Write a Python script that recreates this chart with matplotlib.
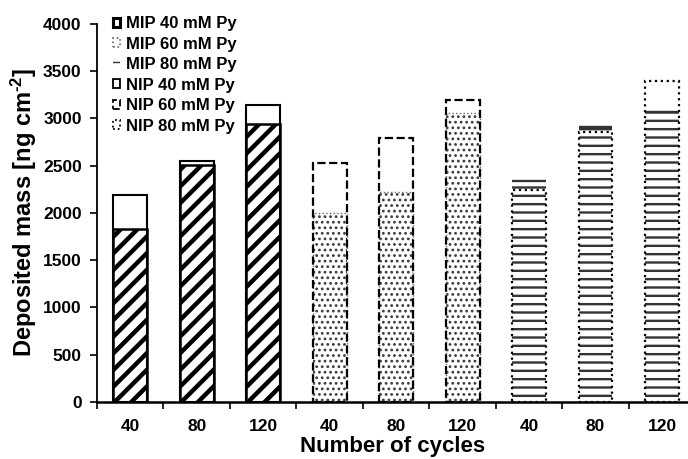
import numpy as np
import matplotlib
matplotlib.use('Agg')
import matplotlib.pyplot as plt
import matplotlib.patches as patches

plt.rcParams['font.family'] = ['Liberation Sans', 'DejaVu Sans']
plt.rcParams['font.weight'] = 'bold'
plt.rcParams['mathtext.fontset'] = 'custom'
plt.rcParams['mathtext.rm'] = 'Liberation Sans:bold'
plt.rcParams['mathtext.bf'] = 'Liberation Sans:bold'
plt.rcParams['mathtext.default'] = 'bf'

ciclos = ['40', '80', '120']
mip_40 = [1830, 2505, 2935]
nip_40 = [2190, 2551, 3135]
mip_60 = [1995, 2220, 3052]
nip_60 = [2523, 2788, 3188]
mip_80 = [2336, 2902, 3069]
nip_80 = [2238, 2853, 3388]

# estilo de cada serie: (hatch, color hatch, linewidth hatch, borde, estilo borde, ancho borde)
estilos_mip = [('//', 'black', 3.2, 'black', '-', 1.8),
               ('...', '#3a3a3a', 1.2, '#666666', ':', 1.0),
               ('--', '#333333', 1.7, 'none', '-', 0.0)]
estilos_nip = [('black', '-', 1.5), ('black', '--', 1.6), ('black', ':', 1.6)]

fig = plt.figure(figsize=(6.88, 4.59), dpi=100)
ax = fig.add_axes([97 / 688, 1 - 402 / 459, 1 - 97 / 688, (402 - 23.6) / 459])

ancho = 0.51
grupos_mip = [mip_40, mip_60, mip_80]
grupos_nip = [nip_40, nip_60, nip_80]
for g in range(3):
    x = np.arange(3) + 3 * g
    hatch, hcol, hlw, ecol, els, elw = estilos_mip[g]
    with plt.rc_context({'hatch.linewidth': hlw, 'hatch.color': hcol}):
        ax.bar(x, grupos_mip[g], ancho, facecolor='white', edgecolor=hcol,
               hatch=hatch, linewidth=0, zorder=2)
    if ecol != 'none':
        ax.bar(x, grupos_mip[g], ancho, facecolor='none', edgecolor=ecol,
               linestyle=els, linewidth=elw, zorder=3)
    else:
        # solo la línea superior de la barra rayada horizontal
        ax.hlines(grupos_mip[g], x - ancho / 2, x + ancho / 2, color=hcol,
                  linewidth=hlw, zorder=3)
    ncol, nls, nlw = estilos_nip[g]
    ax.bar(x, grupos_nip[g], ancho, facecolor='none', edgecolor=ncol,
           linestyle=nls, linewidth=nlw, zorder=4)

ax.set_xlim(-0.5, (688 - 130) / 66.5)
ax.set_ylim(0, 4000)
ax.set_yticks(np.arange(0, 4001, 500))
ax.set_xticks(np.arange(9))
ax.set_xticklabels(ciclos * 3)
ax.set_xticks(np.arange(-0.5, 8, 1), minor=True)
ax.tick_params(axis='x', which='major', length=0, pad=12.5, labelsize=12.5)
ax.tick_params(axis='x', which='minor', length=5, width=1.2, direction='out')
ax.tick_params(axis='y', length=5, width=1.2, direction='out', pad=6, labelsize=12.5)
for s in ['top', 'right']:
    ax.spines[s].set_visible(False)
ax.spines['left'].set_linewidth(1.3)
ax.spines['bottom'].set_linewidth(1.8)

ax.set_ylabel('Deposited mass [ng cm$^{\\text{-2}}$]', fontsize=17, fontweight='bold')
ax.set_xlabel('Number of cycles', fontsize=16, fontweight='bold', labelpad=1.5)
ax.yaxis.set_label_coords((39 - 97) / 591, 0.5)

# leyenda
handles = [patches.Patch(facecolor='white', edgecolor='black', linewidth=2.2),
           patches.Patch(facecolor='white', edgecolor='#666666', linestyle=':', linewidth=1.2),
           patches.Patch(facecolor='white', edgecolor='#333333', hatch='--', linewidth=0)]
for g in range(3):
    ncol, nls, nlw = estilos_nip[g]
    handles.append(patches.Patch(facecolor='white', edgecolor=ncol, linestyle=nls, linewidth=1.3))
etiquetas = ['MIP 40 mM Py', 'MIP 60 mM Py', 'MIP 80 mM Py',
             'NIP 40 mM Py', 'NIP 60 mM Py', 'NIP 80 mM Py']
leg = ax.legend(handles, etiquetas, loc='upper left', bbox_to_anchor=(0.015, 1.037),
                frameon=False, fontsize=12, handlelength=0.45, handleheight=0.45,
                handletextpad=0.35, labelspacing=0.33, borderaxespad=0)

fig.savefig('out.png', dpi=100)
